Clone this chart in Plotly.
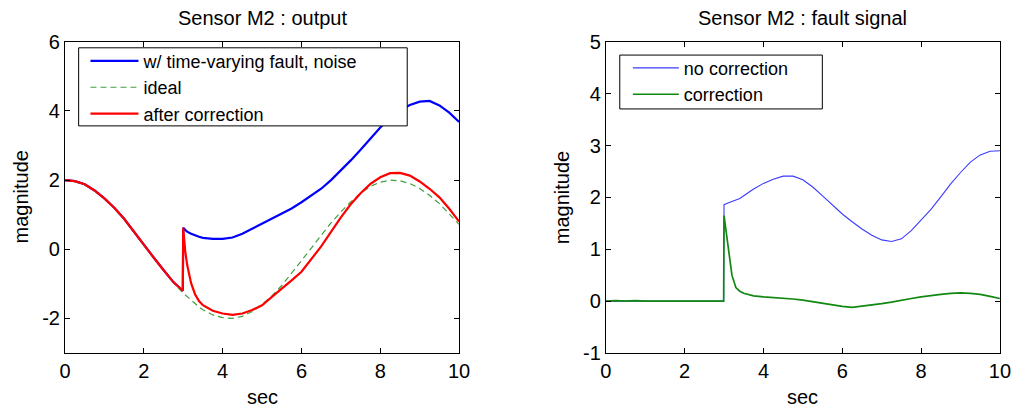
import plotly.graph_objects as go

# ---------------- data ----------------
t = [0, 0.25, 0.5, 0.75, 1, 1.25, 1.5, 1.75, 2, 2.25, 2.5, 2.75, 2.99,
     3.0, 3.05, 3.1, 3.2, 3.3, 3.4, 3.5, 3.75, 4, 4.25, 4.5, 4.75, 5,
     5.25, 5.5, 5.75, 6, 6.25, 6.5, 6.75, 7, 7.25, 7.5, 7.75, 8, 8.25,
     8.5, 8.75, 9, 9.25, 9.5, 9.75, 10]

# left panel: sensor output
out_fault_noise = [2.0, 1.97, 1.88, 1.7, 1.47, 1.2, 0.88, 0.5, 0.13, -0.24, -0.6, -0.95, -1.2,
                   0.62, 0.56, 0.51, 0.45, 0.4, 0.36, 0.33, 0.3, 0.3, 0.34, 0.45, 0.6, 0.73,
                   0.9, 1.03, 1.18, 1.36, 1.55, 1.75, 2.0, 2.28, 2.57, 2.88, 3.2, 3.52, 3.8,
                   4.02, 4.17, 4.27, 4.29, 4.16, 3.95, 3.68]
out_ideal = [2.0, 1.96, 1.86, 1.69, 1.46, 1.18, 0.86, 0.5, 0.13, -0.24, -0.61, -0.96, -1.26,
             -1.27, -1.32, -1.38, -1.49, -1.58, -1.67, -1.75, -1.9, -1.98, -2.0, -1.94, -1.8, -1.6,
             -1.35, -1.05, -0.7, -0.33, 0.03, 0.4, 0.76, 1.08, 1.37, 1.62, 1.82, 1.94, 2.0,
             1.98, 1.9, 1.76, 1.56, 1.32, 1.03, 0.72]
out_corrected = [2.0, 1.97, 1.88, 1.7, 1.47, 1.2, 0.88, 0.5, 0.13, -0.24, -0.6, -0.95, -1.2,
                 0.62, -0.05, -0.45, -0.98, -1.3, -1.5, -1.62, -1.78, -1.86, -1.9, -1.86, -1.76, -1.62,
                 -1.38, -1.15, -0.9, -0.65, -0.3, 0.08, 0.5, 0.92, 1.3, 1.62, 1.89, 2.08, 2.2,
                 2.21, 2.13, 1.96, 1.75, 1.5, 1.17, 0.8]

# right panel: fault signal
fault_no_corr = [0, 0, 0, 0, 0, 0, 0, 0, 0, 0, 0, 0, 0,
                 1.86, 1.87, 1.89, 1.92, 1.95, 1.98, 2.03, 2.16, 2.27, 2.35, 2.41, 2.41, 2.34,
                 2.2, 2.03, 1.85, 1.68, 1.53, 1.39, 1.27, 1.18, 1.15, 1.2, 1.36, 1.56, 1.77,
                 2.01, 2.26, 2.48, 2.68, 2.82, 2.89, 2.9]
fault_corr = [0, 0.01, 0, 0.01, 0, 0, 0.01, 0, 0, 0, 0, 0, 0,
              1.65, 1.35, 1.0, 0.5, 0.26, 0.19, 0.15, 0.1, 0.08, 0.07, 0.06, 0.04, 0.02,
              -0.01, -0.04, -0.08, -0.1, -0.12, -0.1, -0.08, -0.05, -0.02, 0.02, 0.05, 0.08, 0.11,
              0.13, 0.15, 0.16, 0.15, 0.13, 0.09, 0.05]

x_ticks = [0, 2, 4, 6, 8, 10]
x_tick_text = ["0", "2", "4", "6", "8", "10"]
y_ticks_left = [-2, 0, 2, 4, 6]
y_tick_text_left = ["-2", "0", "2", "4", "6"]
y_ticks_right = [-1, 0, 1, 2, 3, 4, 5]
y_tick_text_right = ["-1", "0", "1", "2", "3", "4", "5"]

# ---------------- figure geometry ----------------
# target positions are given in picture pixels; the page is offset and
# rescaled when photographed, so they are mapped back to figure pixels.
W, H = 1022, 418
OX, SX = 4.9, 0.9855
OY, SY = 9.8, 0.95


def fx(x):
    return (x - OX) / SX


def fy(y):
    return (y - OY) / SY


def px(x):
    return fx(x) / W


def py(y):
    return 1 - fy(y) / H


FONT = "Arial, 'Liberation Sans', sans-serif"

fig = go.Figure()

fig.add_trace(go.Scatter(x=t, y=out_fault_noise, mode="lines", name="w/ time-varying fault, noise",
                         line=dict(color="#0000ff", width=2.2), xaxis="x", yaxis="y", legend="legend"))
fig.add_trace(go.Scatter(x=t, y=out_ideal, mode="lines", name="ideal",
                         line=dict(color="#3fa03f", width=1.2, dash="6px,4px"), xaxis="x", yaxis="y",
                         legend="legend"))
fig.add_trace(go.Scatter(x=t, y=out_corrected, mode="lines", name="after correction",
                         line=dict(color="#ff0000", width=2.2), xaxis="x", yaxis="y", legend="legend"))

fig.add_trace(go.Scatter(x=t, y=fault_no_corr, mode="lines", name="no correction",
                         line=dict(color="#3a3aff", width=1.1), xaxis="x2", yaxis="y2", legend="legend2"))
fig.add_trace(go.Scatter(x=t, y=fault_corr, mode="lines", name="correction",
                         line=dict(color="#118811", width=1.7), xaxis="x2", yaxis="y2", legend="legend2"))

xd1 = [px(64), px(459)]
xd2 = [px(606), px(1001)]
yd = [py(352.7), py(40.7)]

axis_common = dict(showline=True, linecolor="black", linewidth=1, mirror="ticks",
                   ticks="inside", ticklen=5, tickcolor="black", showgrid=False,
                   zeroline=False, tickfont=dict(family=FONT, size=20, color="black"))

LEG_FONT = dict(family=FONT, size=18, color="black")
fig.update_layout(
    width=W, height=H,
    margin=dict(l=0, r=0, t=0, b=0),
    paper_bgcolor="white", plot_bgcolor="white",
    showlegend=True,
    xaxis=dict(domain=xd1, range=[0, 10], tickvals=x_ticks, ticktext=x_tick_text, anchor="y", **axis_common),
    yaxis=dict(domain=yd, range=[-3, 6], tickvals=y_ticks_left, ticktext=y_tick_text_left, anchor="x",
               **axis_common),
    xaxis2=dict(domain=xd2, range=[0, 10], tickvals=x_ticks, ticktext=x_tick_text, anchor="y2", **axis_common),
    yaxis2=dict(domain=yd, range=[-1, 5], tickvals=y_ticks_right, ticktext=y_tick_text_right, anchor="x2",
                **axis_common),
    legend=dict(x=(fx(141.7) - 58) / W, y=1 - (fy(61.7) - 21.2) / H, xanchor="left", yanchor="top",
                bgcolor="rgba(0,0,0,0)", borderwidth=0, font=LEG_FONT, itemwidth=48),
    legend2=dict(x=(fx(683.3) - 56) / W, y=1 - (fy(68.7) - 21.2) / H, xanchor="left", yanchor="top",
                 bgcolor="rgba(0,0,0,0)", borderwidth=0, font=LEG_FONT, itemwidth=46),
    shapes=[
        dict(type="rect", xref="paper", yref="paper", layer="above",
             x0=px(77.7), x1=px(407), y0=py(125), y1=py(46.7),
             fillcolor="white", line=dict(color="black", width=1)),
        dict(type="rect", xref="paper", yref="paper", layer="above",
             x0=px(620), x1=px(823), y0=py(108), y1=py(54),
             fillcolor="white", line=dict(color="black", width=1)),
    ],
)

title_font = dict(family=FONT, size=20, color="black")
lab_font = dict(family=FONT, size=20, color="black")
annotations = [
    dict(text="Sensor M2 : output", x=sum(xd1) / 2, y=py(17), xref="paper", yref="paper",
         showarrow=False, xanchor="center", yanchor="middle", font=title_font),
    dict(text="Sensor M2 : fault signal", x=sum(xd2) / 2, y=py(17), xref="paper", yref="paper",
         showarrow=False, xanchor="center", yanchor="middle", font=title_font),
    dict(text="sec", x=sum(xd1) / 2, y=py(397), xref="paper", yref="paper",
         showarrow=False, xanchor="center", yanchor="middle", font=lab_font),
    dict(text="sec", x=sum(xd2) / 2, y=py(397), xref="paper", yref="paper",
         showarrow=False, xanchor="center", yanchor="middle", font=lab_font),
    dict(text="magnitude", x=px(20), y=sum(yd) / 2, xref="paper", yref="paper", textangle=-90,
         showarrow=False, xanchor="center", yanchor="middle", font=lab_font),
    dict(text="magnitude", x=px(562), y=sum(yd) / 2, xref="paper", yref="paper", textangle=-90,
         showarrow=False, xanchor="center", yanchor="middle", font=lab_font),
]
fig.update_layout(annotations=annotations)

fig.write_html("out.html")
